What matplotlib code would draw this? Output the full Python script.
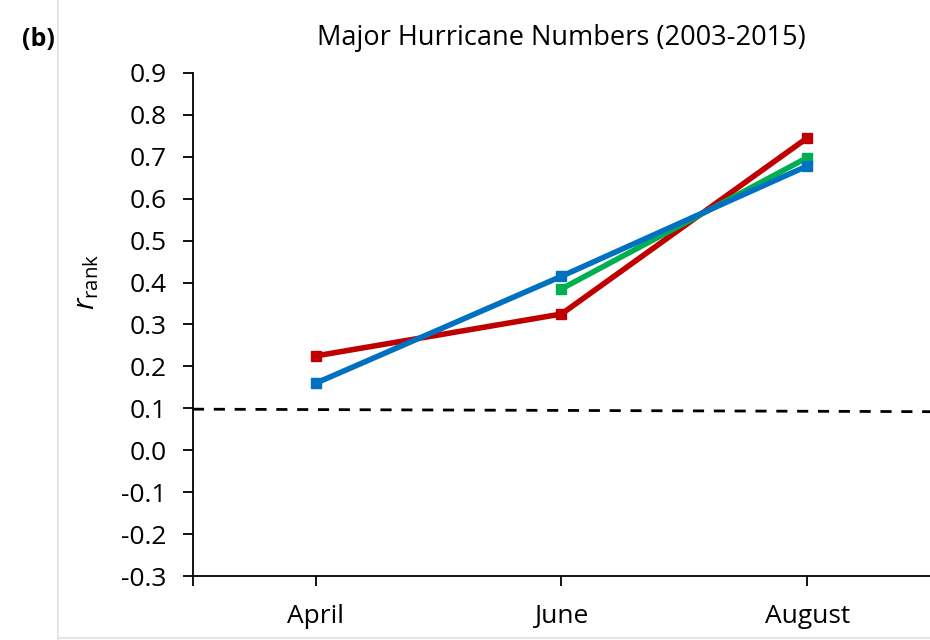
import numpy as np
import matplotlib
matplotlib.use("Agg")
import matplotlib.pyplot as plt
from matplotlib.lines import Line2D

plt.rcParams['font.family'] = ['Open Sans', 'DejaVu Sans']
plt.rcParams['mathtext.fontset'] = 'custom'
plt.rcParams['mathtext.rm'] = 'Open Sans'
plt.rcParams['mathtext.it'] = 'Open Sans:italic'

months = ["April", "June", "August"]
red_vals = [0.225, 0.325, 0.745]
green_vals = [np.nan, 0.385, 0.698]
blue_vals = [0.160, 0.415, 0.678]
threshold = [0.098, 0.092]   # dashed reference line, left and right end
yticks = np.round(np.arange(-0.3, 0.91, 0.1), 1)

fig = plt.figure(figsize=(9.3, 6.4), dpi=100)
ax = fig.add_axes([0.2075, 0.1, 0.7925, 0.786])

x = np.arange(len(months))
ax.plot([-0.5, 2.5], threshold, '--', color='black', linewidth=2, dashes=(4, 3.5), zorder=1)
ax.plot(x, red_vals, '-s', color='#C00000', linewidth=4, markersize=7, zorder=3)
ax.plot(x, green_vals, '-s', color='#00B050', linewidth=4, markersize=7, zorder=3)
ax.plot(x, blue_vals, '-s', color='#0070C0', linewidth=4, markersize=7, zorder=4)

ax.set_xlim(-0.5, 2.5)
ax.set_ylim(-0.3, 0.9)
ax.set_xticks(x)
ax.set_xticklabels(months)
ax.set_xticks([-0.5], minor=True)
ax.set_yticks(yticks)
ax.set_yticklabels(["%.1f" % v for v in yticks])
ax.tick_params(axis='both', which='both', direction='out', length=7, width=1.3,
               labelsize=19, colors='black')
ax.tick_params(axis='x', pad=13)
ax.tick_params(axis='y', pad=12)

for s in ['top', 'right']:
    ax.spines[s].set_visible(False)
for s in ['left', 'bottom']:
    ax.spines[s].set_linewidth(1.3)

ax.set_ylabel(r'$r_{\mathrm{rank}}$', fontsize=21)
ax.yaxis.set_label_coords(-0.125, 0.585)

fig.text(0.604, 0.94, "Major Hurricane Numbers (2003-2015)", fontsize=19.5,
         ha='center', va='center')
fig.text(0.024, 0.939, "(b)", fontsize=18, fontweight='bold', ha='left', va='center')

# thin gray frame line on the left and bottom
fig.add_artist(Line2D([0.062, 0.062], [0.0, 1.0], color='#e6e6e6', linewidth=1.5))
fig.add_artist(Line2D([0.062, 1.0], [0.003, 0.003], color='#e6e6e6', linewidth=1.5))

fig.savefig("out.png", dpi=100)
